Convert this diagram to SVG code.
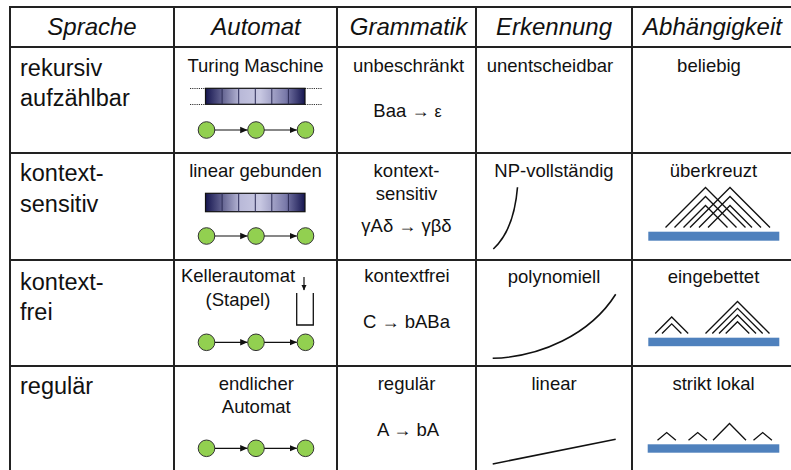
<svg xmlns="http://www.w3.org/2000/svg" width="791" height="470" viewBox="0 0 791 470">
<defs>
<style>
text{font-family:"Liberation Sans",Arial,sans-serif;fill:#111}
.h{font-size:24px;font-style:italic;text-anchor:middle}
.r{font-size:23.5px}
.c{font-size:18.5px;text-anchor:middle}
.s{font-size:18px}
.e{font-size:16px}
.grid{stroke:#222;stroke-width:2;fill:none}
.st{fill:#92D050;stroke:#333;stroke-width:1}
.cur{stroke:#111;stroke-width:1.6;fill:none}
.ch{stroke:#111;stroke-width:1.3;fill:none}
.bar{fill:#4F81BD}
.sep{stroke:#2b2b55;stroke-width:1}
.dot{stroke:#333;stroke-width:1;stroke-dasharray:1.2 1}
</style>
<linearGradient id="tape" x1="0" y1="0" x2="1" y2="0">
<stop offset="0" stop-color="#15154f"/>
<stop offset="0.35" stop-color="#b9b9d8"/>
<stop offset="0.55" stop-color="#c8c8e2"/>
<stop offset="0.8" stop-color="#7c7cab"/>
<stop offset="1" stop-color="#15154f"/>
</linearGradient>
<marker id="ah" markerWidth="8" markerHeight="8" refX="7" refY="4" orient="auto" markerUnits="userSpaceOnUse">
<path d="M0,0.8 L7.5,4 L0,7.2z" fill="#111"/>
</marker>
<marker id="ahs" markerWidth="6" markerHeight="6" refX="5" refY="3" orient="auto" markerUnits="userSpaceOnUse">
<path d="M0,0.5 L5.5,3 L0,5.5z" fill="#111"/>
</marker>
</defs>

<g id="table-grid" class="grid">
<line x1="9" y1="7" x2="791" y2="7"/>
<line x1="10" y1="7" x2="10" y2="470"/>
<line x1="10" y1="47" x2="791" y2="47"/>
<line x1="10" y1="153" x2="791" y2="153"/>
<line x1="10" y1="260" x2="791" y2="260"/>
<line x1="10" y1="366" x2="791" y2="366"/>
<line x1="174" y1="7" x2="174" y2="470"/>
<line x1="337" y1="7" x2="337" y2="470"/>
<line x1="476" y1="7" x2="476" y2="470"/>
<line x1="632" y1="7" x2="632" y2="470"/>
</g>

<g id="header">
<text class="h" x="92" y="35">Sprache</text>
<text class="h" x="256" y="35">Automat</text>
<text class="h" x="408.5" y="35">Grammatik</text>
<text class="h" x="554" y="35">Erkennung</text>
<text class="h" x="712.5" y="35">Abhängigkeit</text>
</g>

<g id="row-labels">
<text class="r" x="20" y="76">rekursiv</text>
<text class="r" x="20" y="106">aufzählbar</text>
<text class="r" x="20" y="181">kontext-</text>
<text class="r" x="20" y="212">sensitiv</text>
<text class="r" x="20" y="290">kontext-</text>
<text class="r" x="20" y="320">frei</text>
<text class="r" x="20" y="394">regulär</text>
</g>

<!-- Row 1 -->
<g id="cell-turing">
<text class="c" x="255.5" y="71.5">Turing Maschine</text>
<line class="dot" x1="190" y1="88.5" x2="205.5" y2="88.5"/>
<line class="dot" x1="190" y1="104.5" x2="205.5" y2="104.5"/>
<line class="dot" x1="305" y1="88.5" x2="322.5" y2="88.5"/>
<line class="dot" x1="305" y1="104.5" x2="322.5" y2="104.5"/>
<rect x="205.5" y="88.3" width="99.5" height="16" fill="url(#tape)" stroke="#111" stroke-width="1.2"/>
<g class="sep">
<line x1="222.1" y1="88.3" x2="222.1" y2="104.3"/>
<line x1="238.7" y1="88.3" x2="238.7" y2="104.3"/>
<line x1="255.3" y1="88.3" x2="255.3" y2="104.3"/>
<line x1="271.8" y1="88.3" x2="271.8" y2="104.3"/>
<line x1="288.4" y1="88.3" x2="288.4" y2="104.3"/>
</g>
<circle class="st" cx="206.5" cy="130" r="8.3"/>
<circle class="st" cx="256" cy="130" r="8.3"/>
<circle class="st" cx="305.5" cy="130" r="8.3"/>
</g>
<g id="cell-unbeschraenkt">
<text class="c" x="408.5" y="71.5">unbeschränkt</text>
<text class="c" x="407.5" y="117">Baa <tspan class="s">→</tspan> <tspan class="e">ε</tspan></text>
</g>
<g id="cell-unentscheidbar">
<text class="c" x="550" y="71.5">unentscheidbar</text>
</g>
<g id="cell-beliebig">
<text class="c" x="709" y="71.5">beliebig</text>
</g>

<!-- Row 2 -->
<g id="cell-linear-gebunden">
<text class="c" x="255.5" y="177">linear gebunden</text>
<rect x="205.5" y="193.3" width="99.5" height="18.4" fill="url(#tape)" stroke="#111" stroke-width="1.2"/>
<g class="sep">
<line x1="222.1" y1="193.3" x2="222.1" y2="211.7"/>
<line x1="238.7" y1="193.3" x2="238.7" y2="211.7"/>
<line x1="255.3" y1="193.3" x2="255.3" y2="211.7"/>
<line x1="271.8" y1="193.3" x2="271.8" y2="211.7"/>
<line x1="288.4" y1="193.3" x2="288.4" y2="211.7"/>
</g>
<circle class="st" cx="206.5" cy="236" r="8.3"/>
<circle class="st" cx="256" cy="236" r="8.3"/>
<circle class="st" cx="305.5" cy="236" r="8.3"/>
</g>
<g id="cell-kontextsensitiv">
<text class="c" x="406.5" y="177">kontext-</text>
<text class="c" x="406.5" y="200">sensitiv</text>
<text class="c" x="406.5" y="232">γAδ <tspan class="s">→</tspan> γβδ</text>
</g>
<g id="cell-np">
<text class="c" x="554" y="177">NP-vollständig</text>
<path class="cur" d="M517.5,187.3 Q514,230 493.3,249"/>
</g>
<g id="cell-ueberkreuzt">
<text class="c" x="713.5" y="177">überkreuzt</text>
<path class="ch" d="M665.5,227.5 L705.5,187.5 L745.5,227.5 M674.5,227.5 L705.5,196.5 L736.5,227.5 M683.5,227.5 L705.5,205.5 L727.5,227.5"/>
<path class="ch" d="M690,227.5 L730,187.5 L770,227.5 M699,227.5 L730,196.5 L761,227.5 M708,227.5 L730,205.5 L752,227.5"/>
<rect class="bar" x="648.3" y="231.7" width="131" height="9"/>
</g>

<!-- Row 3 -->
<g id="cell-kellerautomat">
<text class="c" x="238" y="282">Kellerautomat</text>
<text class="c" x="238" y="305.5">(Stapel)</text>
<line x1="304" y1="277" x2="304" y2="290" stroke="#111" stroke-width="1.2" marker-end="url(#ahs)"/>
<path d="M296.7,293 V325 H313.3 V293" fill="none" stroke="#111" stroke-width="1.3"/>
<circle class="st" cx="206.5" cy="342.3" r="8.3"/>
<circle class="st" cx="256" cy="342.3" r="8.3"/>
<circle class="st" cx="305.5" cy="342.3" r="8.3"/>
</g>
<g id="cell-kontextfrei">
<text class="c" x="407" y="282">kontextfrei</text>
<text class="c" x="406.5" y="328">C <tspan class="s">→</tspan> bABa</text>
</g>
<g id="cell-polynomiell">
<text class="c" x="554" y="283">polynomiell</text>
<path class="cur" d="M492.7,358.3 C540,357 590,335 615.7,294.3"/>
</g>
<g id="cell-eingebettet">
<text class="c" x="713.5" y="283">eingebettet</text>
<path class="ch" d="M655.2,333.5 L671.7,317 L688.2,333.5 M662,333.5 L671.7,323.8 L681.4,333.5"/>
<path class="ch" d="M705.5,333.5 L737.5,301.5 L769.5,333.5 M712.3,333.5 L737.5,308.3 L762.7,333.5 M719,333.5 L737.5,315 L756,333.5 M725.7,333.5 L737.5,321.7 L749.3,333.5"/>
<rect class="bar" x="648.3" y="337.7" width="131" height="8.5"/>
</g>

<!-- Row 4 -->
<g id="cell-endlicher-automat">
<text class="c" x="256.3" y="389.5">endlicher</text>
<text class="c" x="256.3" y="413">Automat</text>
<circle class="st" cx="206.5" cy="448.3" r="8.3"/>
<circle class="st" cx="256" cy="448.3" r="8.3"/>
<circle class="st" cx="305.5" cy="448.3" r="8.3"/>
</g>
<g id="cell-regulaer">
<text class="c" x="406.5" y="389.5">regulär</text>
<text class="c" x="408" y="436">A <tspan class="s">→</tspan> bA</text>
</g>
<g id="cell-linear">
<text class="c" x="554" y="389.5">linear</text>
<line class="cur" x1="492.7" y1="464" x2="615.7" y2="439.3"/>
</g>
<g id="cell-strikt-lokal">
<text class="c" x="713.5" y="389.5">strikt lokal</text>
<path class="ch" d="M657.5,440.3 L666.7,432.5 L675.9,440.3 M688.5,440.3 L697.7,432.5 L706.9,440.3 M713,440.3 L729.5,423.5 L746,440.3 M753.5,440.3 L762.7,432.5 L771.9,440.3"/>
<rect class="bar" x="647.7" y="444.3" width="131.6" height="8.4"/>
</g>

<g id="connectors" stroke="#111" stroke-width="1.2">
<line x1="214.8" y1="130" x2="247.2" y2="130" marker-end="url(#ah)"/>
<line x1="264.3" y1="130" x2="296.7" y2="130" marker-end="url(#ah)"/>
<line x1="214.8" y1="236" x2="247.2" y2="236" marker-end="url(#ah)"/>
<line x1="264.3" y1="236" x2="296.7" y2="236" marker-end="url(#ah)"/>
<line x1="214.8" y1="342.3" x2="247.2" y2="342.3" marker-end="url(#ah)"/>
<line x1="264.3" y1="342.3" x2="296.7" y2="342.3" marker-end="url(#ah)"/>
<line x1="214.8" y1="448.3" x2="247.2" y2="448.3" marker-end="url(#ah)"/>
<line x1="264.3" y1="448.3" x2="296.7" y2="448.3" marker-end="url(#ah)"/>
</g>
</svg>
